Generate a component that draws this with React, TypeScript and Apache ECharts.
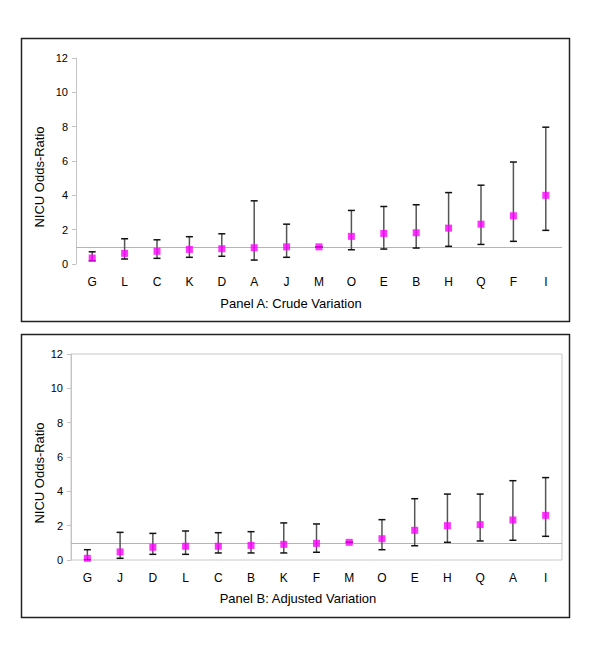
import React, { useEffect, useRef } from "react";
import * as echarts from "echarts";

const catsA = ["G", "L", "C", "K", "D", "A", "J", "M", "O", "E", "B", "H", "Q", "F", "I"];
const orA = [0.35, 0.62, 0.74, 0.85, 0.89, 0.95, 1.0, 1.0, 1.61, 1.78, 1.82, 2.09, 2.32, 2.81, 4.0];
const lowA = [0.19, 0.29, 0.33, 0.39, 0.45, 0.23, 0.39, 1.0, 0.83, 0.87, 0.93, 1.03, 1.14, 1.32, 1.96];
const highA = [0.71, 1.47, 1.41, 1.59, 1.76, 3.68, 2.32, 1.0, 3.12, 3.35, 3.45, 4.16, 4.59, 5.94, 7.97];

const catsB = ["G", "J", "D", "L", "C", "B", "K", "F", "M", "O", "E", "H", "Q", "A", "I"];
const orB = [0.1, 0.47, 0.74, 0.8, 0.8, 0.85, 0.91, 0.97, 1.03, 1.24, 1.73, 2.0, 2.06, 2.33, 2.6];
const lowB = [0.02, 0.1, 0.33, 0.33, 0.41, 0.41, 0.41, 0.45, 1.03, 0.6, 0.83, 1.03, 1.11, 1.15, 1.38];
const highB = [0.6, 1.61, 1.55, 1.69, 1.59, 1.65, 2.16, 2.1, 1.03, 2.35, 3.57, 3.84, 3.84, 4.62, 4.8];

const refValue = 1;
const yMin = 0;
const yMax = 12;
const yInterval = 2;
const titleA = "Panel A: Crude Variation";
const titleB = "Panel B: Adjusted Variation";
const yName = "NICU Odds-Ratio";

const FONT = "Liberation Sans, Arial, sans-serif";

function errorRender(params: any, api: any) {
  const x = api.value(0);
  const lo = api.coord([x, api.value(1)]);
  const hi = api.coord([x, api.value(2)]);
  const hw = 3.5;
  return {
    type: "group",
    children: [
      {
        type: "line",
        shape: { x1: lo[0], y1: lo[1], x2: hi[0], y2: hi[1] },
        style: { stroke: "#555", lineWidth: 1.5 },
      },
      {
        type: "line",
        shape: { x1: lo[0] - hw, y1: lo[1], x2: lo[0] + hw, y2: lo[1] },
        style: { stroke: "#111", lineWidth: 1.5 },
      },
      {
        type: "line",
        shape: { x1: hi[0] - hw, y1: hi[1], x2: hi[0] + hw, y2: hi[1] },
        style: { stroke: "#111", lineWidth: 1.5 },
      },
    ],
  };
}

export default function App() {
  const ref = useRef<HTMLDivElement>(null);
  useEffect(() => {
    if (!ref.current) return;
    const chart = echarts.init(ref.current, undefined, { renderer: "svg" });

    const mkX = (cats: string[], gi: number) => ({
      type: "category",
      gridIndex: gi,
      data: cats,
      boundaryGap: true,
      axisLine: { show: false },
      axisTick: { show: false },
      axisLabel: { color: "#000", fontSize: 12, fontFamily: FONT, margin: 12, interval: 0 },
    });
    const mkY = (gi: number) => ({
      type: "value",
      gridIndex: gi,
      min: yMin,
      max: yMax,
      interval: yInterval,
      axisLine: { show: true, lineStyle: { color: "#c4c4c4", width: 1 } },
      axisTick: { show: true, length: 4, lineStyle: { color: "#c4c4c4" } },
      axisLabel: { color: "#000", fontSize: 11, fontFamily: FONT, margin: 8 },
      splitLine: { show: false },
    });

    const mkSeries = (or: number[], lo: number[], hi: number[], gi: number) => [
      {
        type: "custom",
        xAxisIndex: gi,
        yAxisIndex: gi,
        renderItem: errorRender,
        encode: { x: 0, y: [1, 2] },
        data: lo.map((l, i) => [i, l, hi[i]]),
        z: 2,
        silent: true,
      },
      {
        type: "scatter",
        xAxisIndex: gi,
        yAxisIndex: gi,
        symbol: "rect",
        symbolSize: 7,
        itemStyle: { color: "#ff00ff" },
        data: or.map((v, i) => [i, v]),
        z: 3,
        markLine: {
          silent: true,
          symbol: "none",
          label: { show: false },
          lineStyle: { color: "#b4b4b4", width: 1, type: "solid" },
          data: [{ yAxis: refValue }],
          z: 1,
        },
      },
    ];

    const textEl = (text: string, x: number, y: number, size: number, rotation = 0) => ({
      type: "text",
      x,
      y,
      rotation,
      style: {
        text,
        fill: "#000",
        font: `${size}px ${FONT}`,
        align: "center",
        verticalAlign: "middle",
      },
    });

    chart.setOption({
      animation: false,
      grid: [
        { left: 76, right: 38, top: 58, height: 206, show: false },
        { left: 71, right: 38, top: 354, height: 206, show: true, borderColor: "#c8c8c8", borderWidth: 1 },
      ],
      xAxis: [mkX(catsA, 0), mkX(catsB, 1)],
      yAxis: [mkY(0), mkY(1)],
      series: [...mkSeries(orA, lowA, highA, 0), ...mkSeries(orB, lowB, highB, 1)],
      graphic: [
        {
          type: "rect",
          shape: { x: 21.5, y: 38.5, width: 548, height: 283 },
          style: { fill: "none", stroke: "#222", lineWidth: 1.5 },
          z: 0,
        },
        {
          type: "rect",
          shape: { x: 21.5, y: 334.5, width: 548, height: 283 },
          style: { fill: "none", stroke: "#222", lineWidth: 1.5 },
          z: 0,
        },
        textEl(titleA, 291, 303, 13),
        textEl(titleB, 298, 598, 13),
        textEl(yName, 39, 177, 13, Math.PI / 2),
        textEl(yName, 39, 473, 13, Math.PI / 2),
      ],
    });
    return () => chart.dispose();
  }, []);
  return (
    <div
      ref={ref}
      style={{ position: "absolute", left: 0, top: 0, width: 600, height: 647, background: "#fff" }}
    />
  );
}
